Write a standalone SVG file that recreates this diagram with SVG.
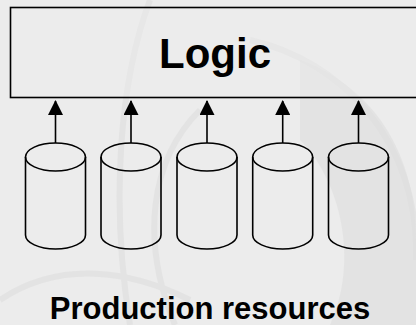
<svg xmlns="http://www.w3.org/2000/svg" width="416" height="325" viewBox="0 0 416 325">
  <defs>
    <style>
      .line { stroke: #000; stroke-width: 1.6; fill: none; }
      .cyl { stroke: #000; stroke-width: 1.6; fill: none; }
      .label { font-family: "Liberation Sans", Arial, sans-serif; font-weight: bold; fill: #000; text-anchor: middle; }
    </style>
    <!-- arrowhead drawn along +x so orient="auto" points it up the line -->
    <marker id="head" markerWidth="15" markerHeight="15" refX="14" refY="7.5" orient="auto" markerUnits="userSpaceOnUse" viewBox="0 0 15 15">
      <path d="M0,0 L15,7.5 L0,15 Z" fill="#000"/>
    </marker>
    <symbol id="cylinder" overflow="visible">
      <ellipse class="cyl" cx="0" cy="157" rx="30" ry="14"/>
      <path class="cyl" d="M-30,157 V235 A30,14 0 0 0 30,235 V157"/>
    </symbol>
  </defs>

  <!-- paper background with a faint engraved globe -->
  <rect width="416" height="325" fill="#ececec"/>
  <g fill="none" stroke="#e0e0e0" stroke-width="6" opacity="0.7">
    <path d="M250,40 C340,60 420,140 416,260"/>
    <path d="M200,110 C150,160 140,240 175,325"/>
    <path d="M150,0 C120,80 110,200 130,325"/>
    <path d="M0,300 C60,260 130,270 190,300"/>
  </g>
  <g fill="#dedede" opacity="0.6">
    <path d="M300,60 C380,90 416,160 416,240 L416,325 L330,325 C360,260 340,180 300,140 Z"/>
  </g>

  <!-- logic block -->
  <g id="logic">
    <rect x="10.5" y="7.5" width="420" height="90" fill="#efefef" fill-opacity="0.35" stroke="#000" stroke-width="1.6"/>
    <text class="label" x="215" y="68" font-size="42">Logic</text>
  </g>

  <!-- production resources -->
  <g id="res1"><use href="#cylinder" x="55.5"/></g>
  <g id="res2"><use href="#cylinder" x="131"/></g>
  <g id="res3"><use href="#cylinder" x="207"/></g>
  <g id="res4"><use href="#cylinder" x="282.7"/></g>
  <g id="res5"><use href="#cylinder" x="358.5"/></g>

  <!-- feeds into the logic block -->
  <g id="connectors">
    <line class="line" x1="55.5" y1="143" x2="55.5" y2="101" marker-end="url(#head)"/>
    <line class="line" x1="131" y1="143" x2="131" y2="101" marker-end="url(#head)"/>
    <line class="line" x1="207" y1="143" x2="207" y2="101" marker-end="url(#head)"/>
    <line class="line" x1="282.7" y1="143" x2="282.7" y2="101" marker-end="url(#head)"/>
    <line class="line" x1="358.5" y1="143" x2="358.5" y2="101" marker-end="url(#head)"/>
  </g>

  <g id="caption">
    <text class="label" x="210" y="319" font-size="31">Production resources</text>
  </g>
</svg>
